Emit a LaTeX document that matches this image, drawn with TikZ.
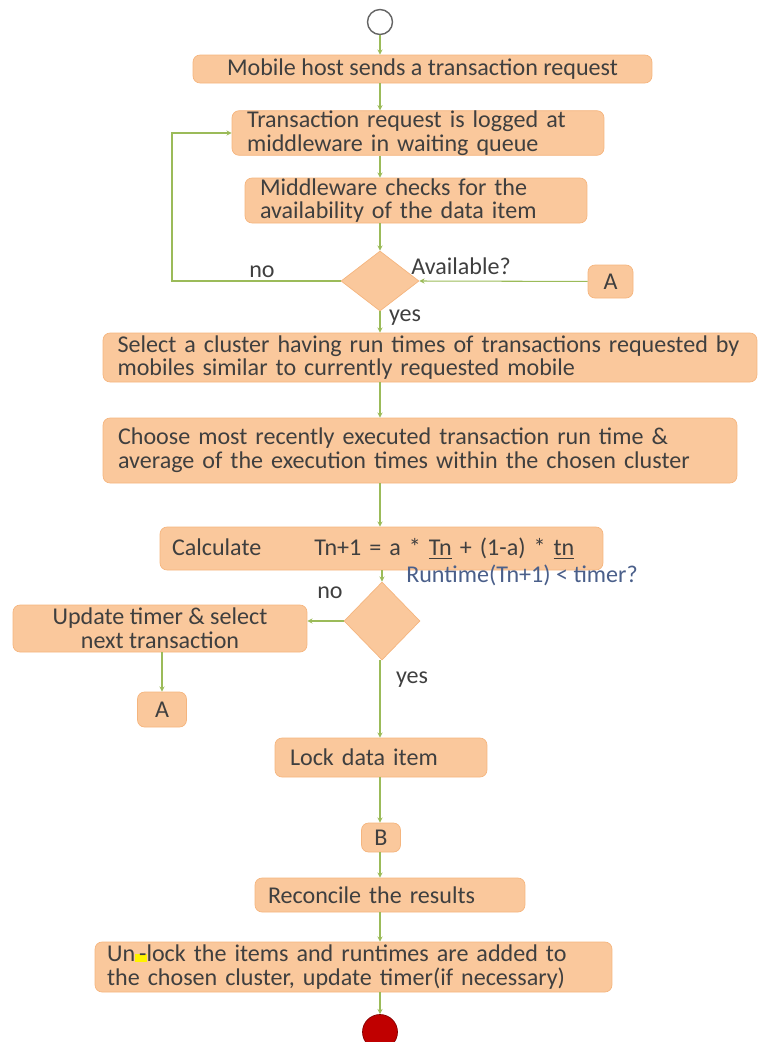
\documentclass[tikz,border=0pt]{standalone}
\usepackage{fontspec}
\setmainfont{Carlito}
\usetikzlibrary{positioning, calc, arrows.meta, shapes.geometric}
\definecolor{Peach}{HTML}{FAC89C}
\definecolor{PeachLine}{HTML}{F5B57E}
\definecolor{Flow}{HTML}{9BBB59}
\definecolor{Ink}{HTML}{3F3F3F}
\definecolor{Query}{HTML}{4A5F8A}
\definecolor{Stop}{HTML}{C00000}
\tikzset{
    stepbox/.style={rectangle, rounded corners=4pt, fill=Peach, draw=PeachLine, text=Ink, align=left, font=\fontsize{13.7}{13.5}\selectfont, inner sep=0pt},
    decision/.style={diamond, fill=Peach, draw=PeachLine, inner sep=0pt, minimum width=1.56cm, minimum height=1.2cm},
    tag/.style={text=Ink, font=\fontsize{13.7}{13.5}\selectfont},
    flow/.style={-{Stealth[length=3pt, width=3pt]}, Flow, line width=0.6pt},
}

\begin{document}
\begin{tikzpicture}[x=0.02cm, y=-0.02cm]
    \useasboundingbox (0,0) rectangle (759,1042);
    % Start
    \node[circle, draw=Ink!80, fill=white, thick, minimum size=0.5cm, inner sep=0pt] (start) at (380,22) {};
    % Top part
    \node[stepbox, minimum width=9.18cm, minimum height=0.56cm, align=center] (send) at (422.5,69) {Mobile host sends a transaction request};
    \node[stepbox, minimum width=7.44cm, minimum height=0.88cm, text width=6.84cm] (logged) at (418,133) {Transaction request is logged at\\middleware in waiting queue};
    \node[stepbox, minimum width=6.84cm, minimum height=0.9cm, text width=6.24cm] (check) at (416,200.5) {Middleware checks for the\\availability of the data item};
    \node[decision] (avail) at (380,281) {};
    \node[stepbox, minimum width=0.9cm, minimum height=0.66cm, align=center] (conA) at (610.5,281.5) {A};
    \node[tag, anchor=base] (availtxt) at (461,274) {Available?};
    \node[tag, anchor=base] (availno) at (262,277) {no};
    \node[tag, anchor=base] (availyes) at (405,321) {yes};
    \coordinate (loop) at (172,133);
    % Middle part
    \node[stepbox, minimum width=13.08cm, minimum height=0.98cm, text width=12.5cm] (cluster) at (430,357.5) {Select a cluster having run times of transactions requested by\\mobiles similar to currently requested mobile};
    \node[stepbox, minimum width=12.68cm, minimum height=1.3cm, text width=12.08cm] (choose) at (420,450.5) {Choose most recently executed transaction run time \&\\average of the execution times within the chosen cluster};
    \node[stepbox, minimum width=8.86cm, minimum height=0.86cm, text width=8.38cm] (calc) at (381.5,548.5) {Calculate\hspace{2.2em}Tn+1 = a * \underline{Tn} + (1-a) * \underline{tn}};
    \node[decision, minimum width=1.52cm, minimum height=1.56cm] (runtime) at (382,621) {};
    \node[tag, anchor=base, text=Query] (runtxt) at (522,582) {Runtime(Tn+1) < timer?};
    \node[tag, anchor=base] (runno) at (330,598) {no};
    \node[tag, anchor=base] (runyes) at (412,683) {yes};
    \node[stepbox, minimum width=5.88cm, minimum height=0.94cm, align=center] (update) at (160,628.5) {Update timer \& select\\next transaction};
    \node[stepbox, minimum width=0.98cm, minimum height=0.7cm, align=center] (conA2) at (162,709.5) {A};
    % Bottom part
    \node[stepbox, minimum width=4.24cm, minimum height=0.78cm, text width=3.64cm] (lock) at (381,757.5) {Lock data item};
    \node[stepbox, minimum width=0.78cm, minimum height=0.58cm, align=center] (conB) at (381,837.5) {B};
    \node[stepbox, minimum width=5.4cm, minimum height=0.68cm, text width=4.88cm] (reconcile) at (390,895) {Reconcile the results};
    \node[stepbox, minimum width=10.34cm, minimum height=1.0cm, text width=9.86cm] (unlock) at (353.5,967) {Un{\setlength\fboxsep{0pt}\colorbox{yellow}{\,-}}lock the items and runtimes are added to\\the chosen cluster, update timer(if necessary)};
    \node[circle, draw=Stop!70!black, fill=Stop, minimum size=0.7cm, inner sep=0pt] (stop) at (380,1032) {};

    % Connectors
    \draw[flow] (start) -- (start |- send.north);
    \draw[flow] (send.south -| start) -- (logged.north -| start);
    \draw[flow] (logged.south -| start) -- (check.north -| start);
    \draw[flow] (check.south -| start) -- (avail.north);
    \draw[flow] (avail.west) -| (loop) -- (logged.west);
    \draw[flow] (conA) -- (avail.east);
    \draw[flow] (avail.south) -- (cluster.north -| avail);
    \draw[flow] (cluster.south -| start) -- (choose.north -| start);
    \draw[flow] (choose.south -| start) -- (calc.north -| start);
    \draw[flow] (calc.south -| runtime) -- (runtime.north);
    \draw[flow] (runtime.west) -- (update.east |- runtime.west);
    \draw[flow] (update.south -| conA2) -- (conA2.north);
    \draw[flow] (runtime.south -| start) -- (lock.north -| start);
    \draw[flow] (lock.south -| start) -- (conB.north -| start);
    \draw[flow] (conB.south -| start) -- (reconcile.north -| start);
    \draw[flow] (reconcile.south -| start) -- (unlock.north -| start);
    \draw[flow] (unlock.south -| stop) -- (stop);
\end{tikzpicture}
\end{document}
